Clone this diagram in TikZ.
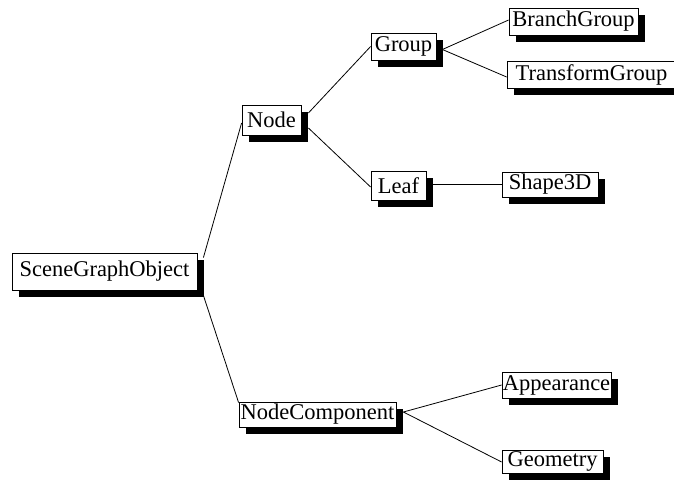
\documentclass[tikz,border=0pt]{standalone}
\usepackage{fontspec}
\setmainfont{Liberation Serif}
\usetikzlibrary{shadows,calc}
\begin{document}
\begin{tikzpicture}[x=1pt,y=-1pt,
  box/.style={draw=black, line width=0.8pt, fill=white, inner sep=0pt,
    font=\fontsize{22.5}{24}\selectfont,
    drop shadow={shadow xshift=7pt, shadow yshift=-7pt, fill=black, opacity=1}},
  link/.style={draw=black, line width=0.8pt}]
\useasboundingbox (0,0) rectangle (674,481);
\node[box, minimum width=185, minimum height=37] (sgo) at (104.5,271.5) {SceneGraphObject};
\node[box, minimum width=59, minimum height=30] (nd) at (271.5,120) {Node};
\node[box, minimum width=65, minimum height=27] (grp) at (403.5,46.5) {Group};
\node[box, minimum width=129, minimum height=27] (bg) at (573.5,21.5) {BranchGroup};
\node[box, minimum width=169, minimum height=27] (tg) at (591.5,74.5) {TransformGroup};
\node[box, minimum width=55, minimum height=29] (leaf) at (398.5,185.5) {Leaf};
\node[box, minimum width=96, minimum height=25] (s3d) at (550,184.5) {Shape3D};
\node[box, minimum width=157, minimum height=25] (nc) at (317.5,414.5) {NodeComponent};
\node[box, minimum width=109, minimum height=26] (app) at (556.5,385) {Appearance};
\node[box, minimum width=101, minimum height=23] (geo) at (552.5,461.5) {Geometry};
\draw[link] ($(sgo.north east)+(6,5)$) -- ($(nd.west)+(0,3)$);
\draw[link] ($(sgo.south east)+(6,5)$) -- ($(nc.north west)+(0,1)$);
\draw[link] ($(nd.east)+(7,-7)$) -- (grp.west);
\draw[link] ($(nd.east)+(7,8)$) -- ($(leaf.west)+(0,1.5)$);
\draw[link] ($(grp.east)+(6,3)$) -- ($(bg.west)+(0,-1.5)$);
\draw[link] ($(grp.east)+(6,3)$) -- ($(tg.west)+(0,2.5)$);
\draw[link] ($(leaf.east)+(6,-1.5)$) -- ($(s3d.west)+(0,-0.5)$);
\draw[link] ($(nc.east)+(7,-2.5)$) -- (app.west);
\draw[link] ($(nc.east)+(7,-2.5)$) -- ($(geo.west)+(0,0.5)$);
\end{tikzpicture}
\end{document}
